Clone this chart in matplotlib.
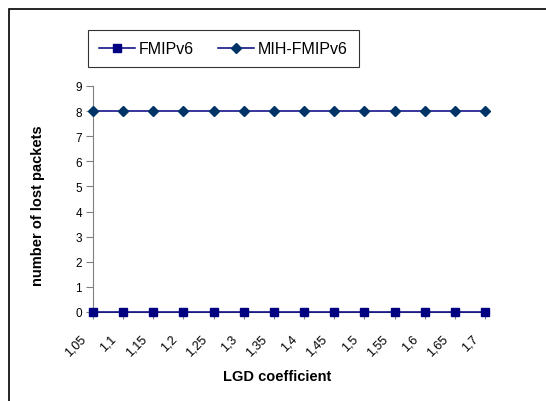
import matplotlib
matplotlib.use("Agg")
import matplotlib.pyplot as plt
from matplotlib.patches import Rectangle
from matplotlib.transforms import ScaledTranslation

categories = ["1,05", "1,1", "1,15", "1,2", "1,25", "1,3", "1,35", "1,4", "1,45", "1,5", "1,55", "1,6", "1,65", "1,7"]
fmipv6 = [0, 0, 0, 0, 0, 0, 0, 0, 0, 0, 0, 0, 0, 0]
mih_fmipv6 = [8, 8, 8, 8, 8, 8, 8, 8, 8, 8, 8, 8, 8, 8]
yticks = [0, 1, 2, 3, 4, 5, 6, 7, 8, 9]

plt.rcParams['font.family'] = ['Liberation Sans', 'DejaVu Sans']

W, H = 546, 402
fig = plt.figure(figsize=(W / 100, H / 100), dpi=100)
fig.patch.set_facecolor('white')

# outer chart border (right/bottom edges fall outside the image)
fig.add_artist(Rectangle((9 / W, -0.1), 1.2, 1 - 10 / H + 0.1, transform=fig.transFigure,
                         fill=False, edgecolor='black', linewidth=1.2))

ax = fig.add_axes([93 / W, 1 - 313 / H, (485 - 93) / W, (313 - 87) / H])
x = list(range(len(categories)))
ax.plot(x, fmipv6, color='#000080', marker='s', markersize=5.2, linewidth=1.1,
        label='FMIPv6', clip_on=False, zorder=3)
ax.plot(x, mih_fmipv6, color='#000080', marker='D', markersize=4.8,
        markerfacecolor='#003366', markeredgecolor='#003366', linewidth=1.1,
        label='MIH-FMIPv6', clip_on=False, zorder=3)

ax.set_xlim(0, len(categories) - 1)
ax.set_ylim(0, 9)
ax.set_yticks(yticks)
ax.set_yticklabels([str(v) for v in yticks], fontsize=8.5)
ax.set_xticks(x)
ax.set_xticklabels(categories, rotation=45, ha='right', va='top', rotation_mode='anchor', fontsize=9)
for s in ['top', 'right']:
    ax.spines[s].set_visible(False)
ax.spines['left'].set_color('#808080')
ax.spines['bottom'].set_color('#808080')
ax.tick_params(axis='both', direction='out', length=5, color='#808080', width=0.8, pad=3)

# shift rotated x tick labels (after tick_params, which resets transforms)
offset = ScaledTranslation(-13 / 100, -9 / 100, fig.dpi_scale_trans)
for tick in ax.xaxis.get_major_ticks():
    tick.label1.set_transform(tick.label1.get_transform() + offset)

ax.set_ylabel('number of lost packets', fontsize=10.5, fontweight='bold')
ax.set_xlabel('LGD coefficient', fontsize=10.5, fontweight='bold')
ax.yaxis.set_label_coords((38 - 93) / 392, (313 - 205.5) / 226)
ax.yaxis.label.set_va('center')
ax.yaxis.label.set_ha('center')
ax.xaxis.set_label_coords((277 - 93) / 392, (313 - 377) / 226)
ax.xaxis.label.set_va('center')
ax.xaxis.label.set_ha('center')

leg = fig.legend(loc='upper left', bbox_to_anchor=(88 / W, 1 - 31 / H), ncol=2,
                 fontsize=11.5, frameon=True, fancybox=False, edgecolor='black',
                 handlelength=2.25, handletextpad=0.25, columnspacing=1.5,
                 borderpad=0.7, borderaxespad=0)
leg.get_frame().set_linewidth(0.8)

fig.savefig('out.png', dpi=100)
